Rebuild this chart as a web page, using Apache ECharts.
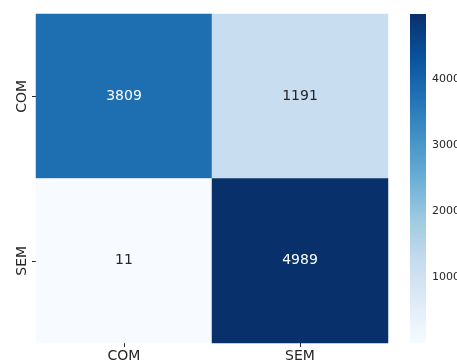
<!DOCTYPE html>
<html><head><meta charset="utf-8">
<script src="https://cdn.jsdelivr.net/npm/echarts@6/dist/echarts.min.js"></script>
<style>html,body{margin:0;padding:0;background:#fff}#c{width:457px;height:363px}</style>
</head><body><div id="c"></div>
<script>
const xCategories = ['COM', 'SEM'];
const yCategories = ['COM', 'SEM'];
// rows: true label (y), columns: predicted (x)
const rowCOM = [3809, 1191];
const rowSEM = [11, 4989];
const colorbarTicks = [1000, 2000, 3000, 4000];

const blues = ['#f7fbff','#deebf7','#c6dbef','#9ecae1','#6baed6','#4292c6','#2171b5','#08519c','#08306b'];
const rows = [rowCOM, rowSEM];
const all = rowCOM.concat(rowSEM);
const vmin = Math.min(...all), vmax = Math.max(...all);

const data = [];
rows.forEach((r, yi) => r.forEach((v, xi) => {
  const t = (v - vmin) / (vmax - vmin);
  data.push({ value: [xi, yi, v], label: { color: t > 0.5 ? '#ffffff' : '#262626' } });
}));

const chart = echarts.init(document.getElementById('c'), null, { renderer: 'canvas' });
chart.setOption({
  animation: false,
  grid: [
    { left: 36, top: 14, width: 352, height: 329, containLabel: false, outerBoundsMode: 'none' },
    { left: 410, top: 14, width: 16, height: 329, containLabel: false, outerBoundsMode: 'none' }
  ],
  xAxis: [
    { type: 'category', gridIndex: 0, data: xCategories,
      axisLine: { show: false },
      axisTick: { show: true, alignWithLabel: true, length: 4, lineStyle: { color: '#262626' } },
      axisLabel: { fontSize: 14, color: '#262626', fontFamily: 'DejaVu Sans', margin: 6 },
      splitLine: { show: false } },
    { type: 'value', gridIndex: 1, min: 0, max: 1, show: false }
  ],
  yAxis: [
    { type: 'category', gridIndex: 0, data: yCategories, inverse: true,
      axisLine: { show: false },
      axisTick: { show: true, alignWithLabel: true, length: 4, lineStyle: { color: '#262626' } },
      axisLabel: { fontSize: 14, color: '#262626', fontFamily: 'DejaVu Sans', rotate: 90, margin: 7 },
      splitLine: { show: false } },
    { type: 'value', gridIndex: 1, min: vmin, max: vmax, position: 'right',
      axisLine: { show: false },
      splitLine: { show: false },
      axisTick: { show: true, length: 3, customValues: colorbarTicks, lineStyle: { color: '#262626' } },
      axisLabel: { show: true, fontSize: 11, color: '#262626', fontFamily: 'DejaVu Sans', margin: 6,
        customValues: colorbarTicks, formatter: v => String(v) } }
  ],
  visualMap: { show: false, min: vmin, max: vmax, seriesIndex: 0, dimension: 2, inRange: { color: blues } },
  series: [
    { type: 'heatmap', xAxisIndex: 0, yAxisIndex: 0, data: data,
      label: { show: true, fontSize: 14, fontFamily: 'DejaVu Sans', formatter: p => String(p.value[2]) },
      itemStyle: { borderWidth: 0 },
      emphasis: { disabled: true } },
    { type: 'custom', xAxisIndex: 1, yAxisIndex: 1, data: [[0, vmin, vmax]],
      renderItem: function (params, api) {
        const p1 = api.coord([0, api.value(2)]);
        const p2 = api.coord([1, api.value(1)]);
        const stops = blues.map((c, i) => ({ offset: i / (blues.length - 1), color: c }));
        return { type: 'rect', shape: { x: p1[0], y: p1[1], width: p2[0] - p1[0], height: p2[1] - p1[1] },
          style: { fill: new echarts.graphic.LinearGradient(0, 1, 0, 0, stops) } };
      } }
  ]
});
</script></body></html>
